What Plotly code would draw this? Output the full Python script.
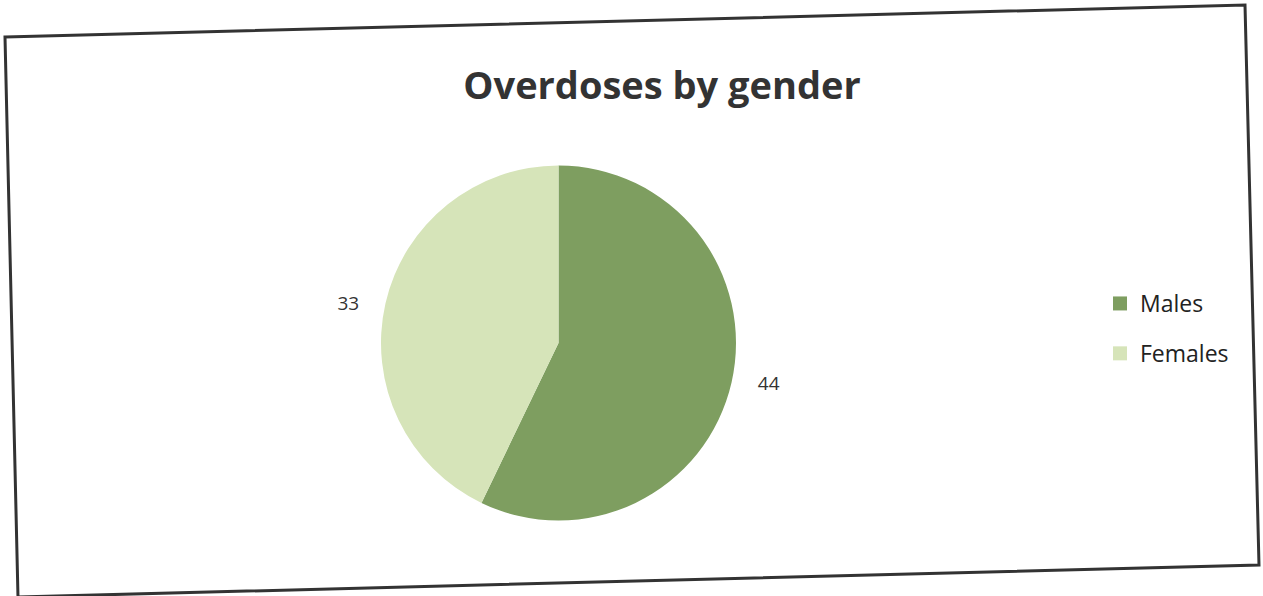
import plotly.graph_objects as go

# Data
categories = ["Males", "Females"]
values = [44, 33]
colors = ["#7e9e60", "#d6e4b9"]
title_text = "Overdoses by gender"

W, H = 1263, 596

def px(x, y):
    return x / W, 1 - y / H

pad = "\u00a0" * 4

fig = go.Figure()
fig.add_trace(go.Pie(
    labels=categories,
    values=values,
    sort=False,
    direction="clockwise",
    rotation=0,
    marker=dict(colors=colors, line=dict(width=0)),
    texttemplate=pad + "%{value}" + pad,
    textposition="outside",
    textfont=dict(family="Open Sans", size=19, color="#333333"),
    showlegend=False,
    hoverinfo="label+value",
    domain=dict(x=[381 / W, 736 / W], y=[1 - 522 / H, 1 - 164 / H]),
))

# legend entries
for c, col in zip(categories, colors):
    fig.add_trace(go.Scatter(
        x=[None], y=[None], mode="markers", name=c,
        marker=dict(symbol="square", size=14, color=col),
        legendgroup=c, showlegend=True,
    ))

# frame (scanned, slightly rotated)
corners = [(5, 37), (1245, 5), (1259, 565), (18, 597)]
pts = [px(*c) for c in corners]
path = "M " + " L ".join(f"{a:.5f},{b:.5f}" for a, b in pts) + " Z"

fig.update_layout(
    width=W, height=H,
    margin=dict(l=0, r=0, t=0, b=0),
    paper_bgcolor="white", plot_bgcolor="white",
    xaxis=dict(visible=False), yaxis=dict(visible=False),
    title=dict(text=title_text, x=662 / W, xanchor="center", y=1 - 86 / H, yanchor="middle",
               font=dict(family="Open Sans", size=38, color="#333333", weight="bold")),
    legend=dict(x=1100 / W, y=1 - 282 / H, xanchor="left", yanchor="top",
                font=dict(family="Open Sans", size=23, color="#222222"),
                tracegroupgap=17, itemwidth=30, bgcolor="rgba(0,0,0,0)"),
    shapes=[dict(type="path", xref="paper", yref="paper", path=path,
                 line=dict(color="#333333", width=3), fillcolor="rgba(0,0,0,0)")],
)

fig.write_html("out.html", config={"displayModeBar": False},
               post_script="document.body.style.margin='0';document.body.style.overflow='hidden';")
